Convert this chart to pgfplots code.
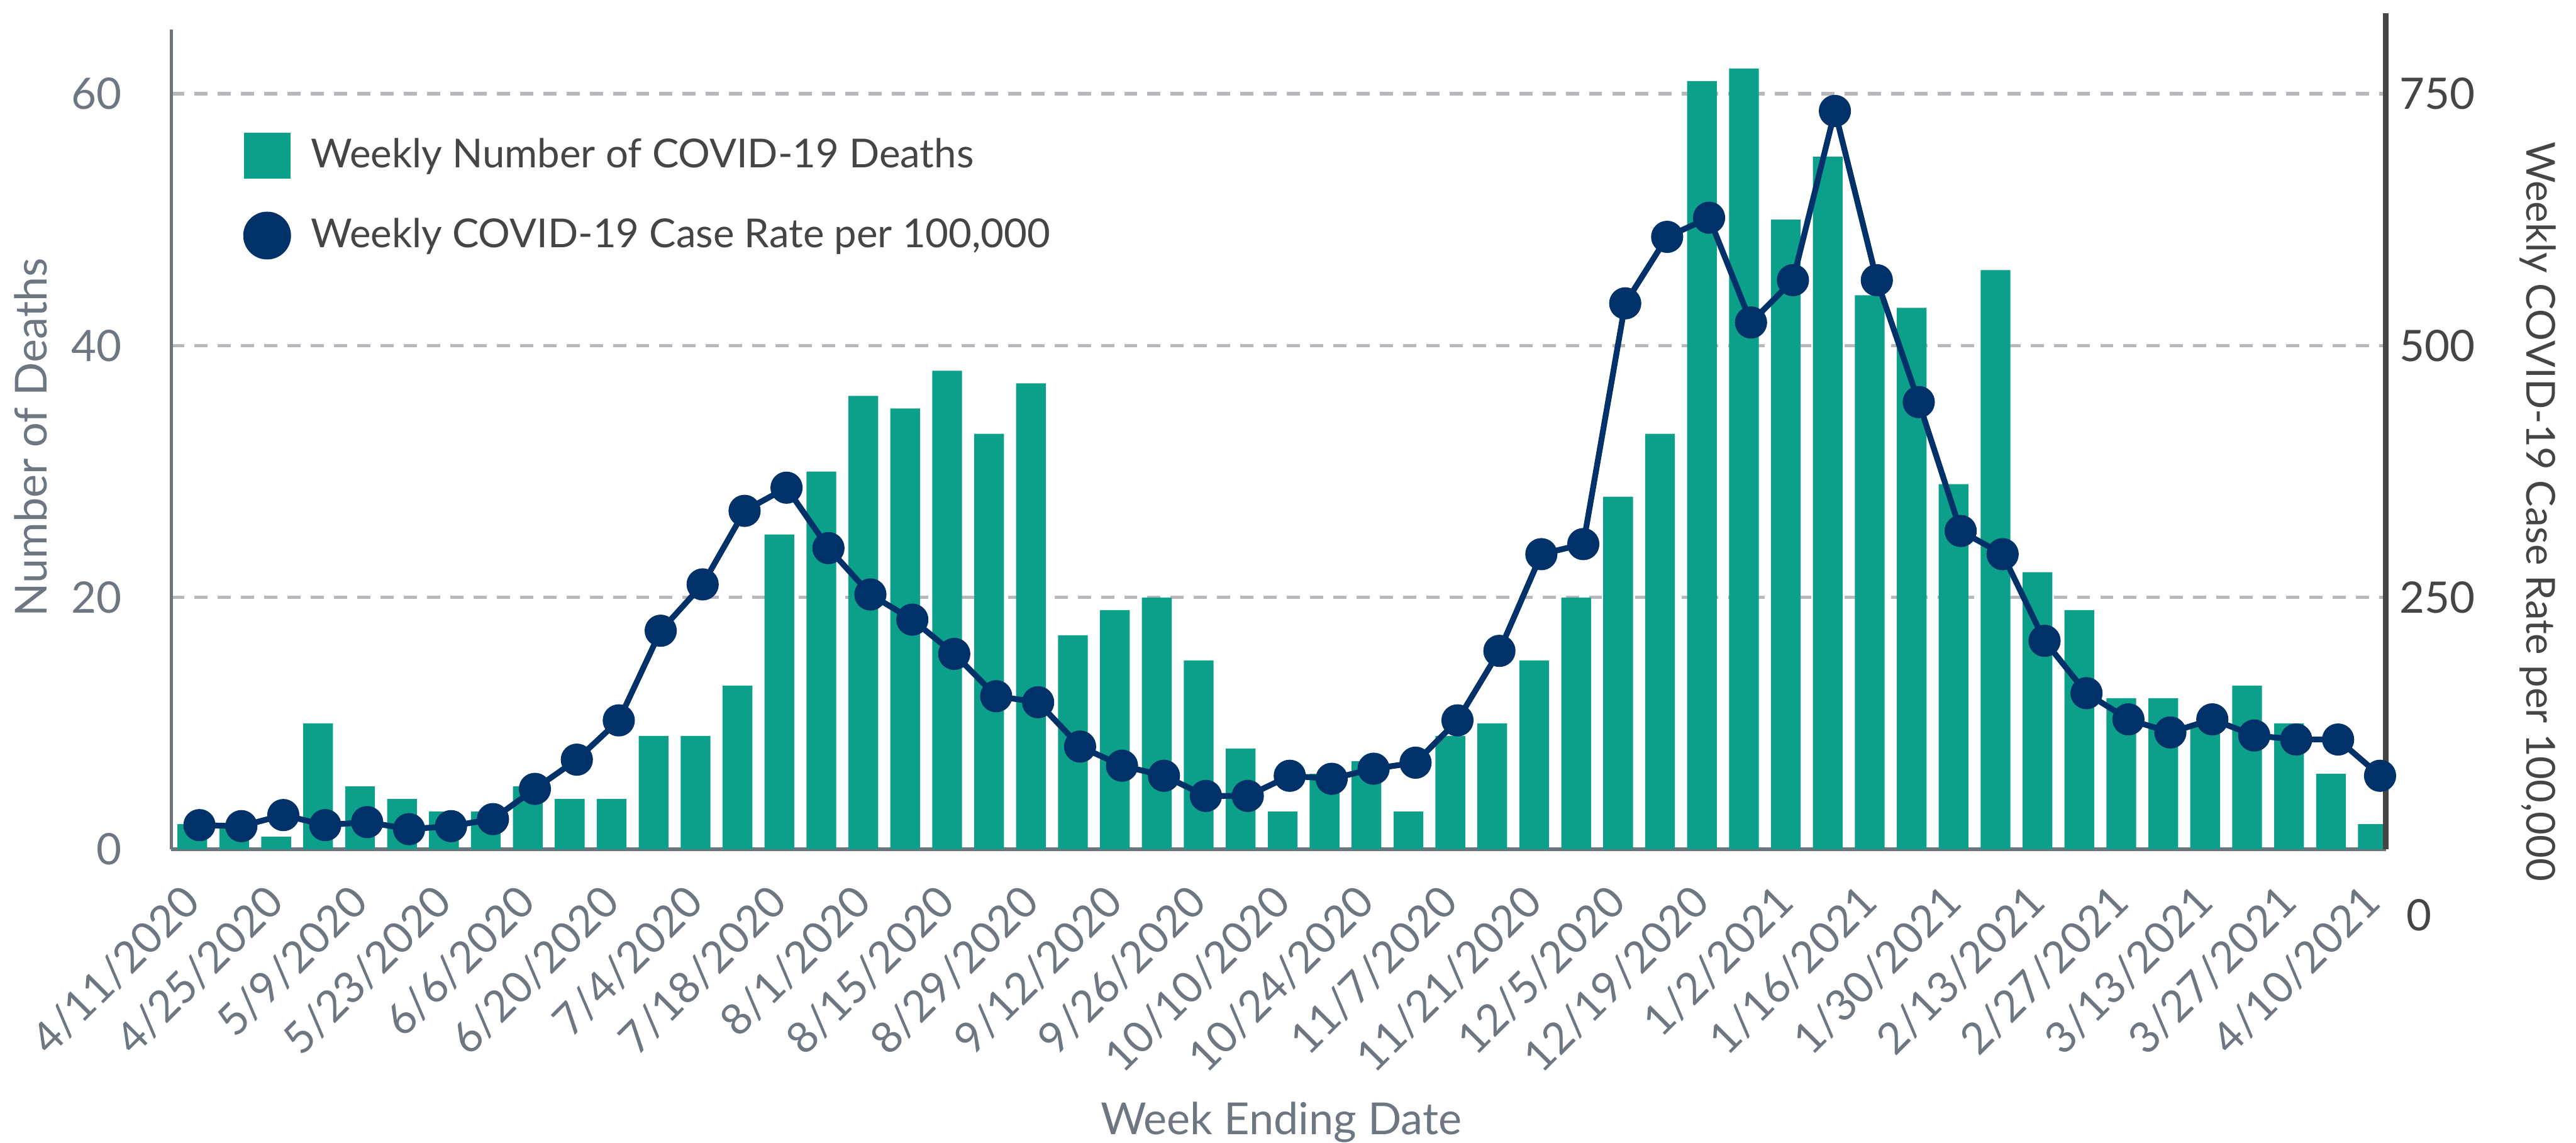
\documentclass[border=0pt]{standalone}
\usepackage{fontspec}
\setmainfont{Lato}
\usepackage{pgfplots}
\pgfplotsset{compat=1.18}
\usepackage{pgfplotstable}

\definecolor{barteal}{HTML}{0C9F8A}
\definecolor{linenavy}{HTML}{003168}
\definecolor{gridgray}{HTML}{B6B8BC}
\definecolor{axisgray}{HTML}{6C757D}
\definecolor{labgray}{HTML}{6D7681}
\definecolor{dgray}{HTML}{454545}

\newcommand\tickfont{\fontsize{11.2}{13}\selectfont}
\newcommand\labfont{\fontsize{11.4}{14}\selectfont}
\newcommand\legfont{\fontsize{10.3}{12}\selectfont}

\pgfplotstableread{
x d r
0 2 24
1 2 23
2 1 34
3 10 24
4 5 27
5 4 20
6 3 23
7 3 30
8 5 60
9 4 89
10 4 128
11 9 217
12 9 263
13 13 336
14 25 359
15 30 299
16 36 253
17 35 228
18 38 194
19 33 152
20 37 146
21 17 102
22 19 83
23 20 73
24 15 53
25 8 53
26 3 73
27 6 70
28 7 80
29 3 86
30 9 128
31 10 197
32 15 293
33 20 303
34 28 542
35 33 608
36 61 627
37 62 523
38 50 565
39 55 733
40 44 565
41 43 444
42 29 316
43 46 293
44 22 207
45 19 155
46 12 129
47 12 116
48 10 129
49 13 113
50 10 109
51 6 109
52 2 73
}\datatable

\begin{document}
\begin{tikzpicture}
\path[use as bounding box] (-1.555cm,-2.66cm) rectangle (21.82cm,7.705cm);
\begin{axis}[
  scale only axis, width=20.095cm, height=7.435cm,
  xmin=-0.4993, xmax=52.31, ymin=0, ymax=65.08,
  axis y line*=left, axis x line*=bottom,
  axis line style={axisgray, line width=0.9pt, -},
  /pgf/number format/assume math mode=true,
  ytick={0,20,40,60},
  ymajorgrids,
  grid style={gridgray, line width=0.85pt, dash pattern=on 3.4pt off 2.6pt},
  major tick length=0pt,
  xtick={0,2,...,52},
  xticklabels={4/11/2020,4/25/2020,5/9/2020,5/23/2020,6/6/2020,6/20/2020,7/4/2020,7/18/2020,8/1/2020,8/15/2020,8/29/2020,9/12/2020,9/26/2020,10/10/2020,10/24/2020,11/7/2020,11/21/2020,12/5/2020,12/19/2020,1/2/2021,1/16/2021,1/30/2021,2/13/2021,2/27/2021,3/13/2021,3/27/2021,4/10/2021},
  xticklabel style={rotate=45, anchor=east, inner sep=0pt, font=\tickfont, text=labgray},
  xticklabel shift=11.4pt,
  yticklabel style={inner sep=0pt, font=\tickfont, text=labgray},
  yticklabel shift=12.6pt,
  legend style={at={(0.0321,0.8756)}, anchor=north west, draw=none, fill=none,
    inner sep=0pt, row sep=8.5pt, font=\legfont, text=dgray,
    nodes={inner sep=0pt},
    /tikz/every odd column/.append style={column sep=5.1pt}},
  legend cell align=left,
]
\addplot[ybar, bar width=0.27cm, bar shift=0pt, fill=barteal, draw=none,
  legend image code/.code={\fill[barteal] (0pt,-5.97pt) rectangle (11.95pt,5.97pt);}]
  table[x=x, y=d] {\datatable};
\addlegendentry{Weekly Number of COVID-19 Deaths}
\addlegendimage{legend image code/.code={\fill[linenavy] (5.97pt,0pt) circle (5.97pt);}}
\addlegendentry{Weekly COVID-19 Case Rate per 100,000}
\end{axis}
\begin{axis}[
  scale only axis, width=20.095cm, height=7.585cm,
  xmin=-0.4993, xmax=52.31, ymin=0, ymax=830,
  axis y line*=right, axis x line=none,
  axis line style={dgray, line width=1.4pt, -},
  /pgf/number format/assume math mode=true,
  ytick={250,500,750},
  major tick length=0pt,
  yticklabel style={inner sep=0pt, font=\tickfont, text=dgray},
  yticklabel shift=3.4pt,
]
\addplot[linenavy, line width=1.5pt, mark=*, mark size=3.4pt,
  mark options={fill=linenavy, draw=none}]
  table[x expr=\thisrow{x}+0.17, y=r] {\datatable};
\end{axis}
\node[rotate=90, anchor=base, text=labgray, font=\labfont] at (-1.13cm,3.735cm) {Number of Deaths};
\node[anchor=base, text=labgray, font=\labfont] at (10.07cm,-2.59cm) {Week Ending Date};
\node[rotate=-90, anchor=base, text=dgray, font=\legfont] at (21.37cm,3.065cm) {Weekly COVID-19 Case Rate per 100,000};
\node[anchor=west, inner sep=0pt, text=dgray, font=\tickfont] at (20.275cm,-0.595cm) {0};
\end{tikzpicture}
\end{document}
